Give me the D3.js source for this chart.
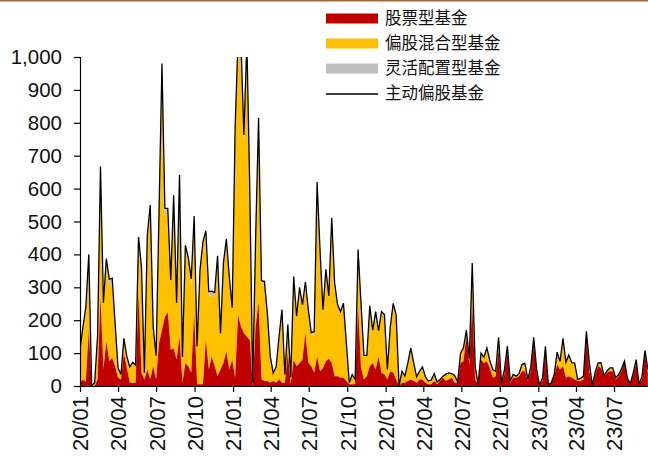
<!DOCTYPE html>
<html><head><meta charset="utf-8">
<script src="https://cdn.jsdelivr.net/npm/d3@7"></script>
<style>
html,body{margin:0;padding:0;background:#fff;}
svg{display:block;}
</style></head>
<body>
<svg id="chart" width="648" height="457"></svg>
<script>
// ---- DATA (weekly, starting 2020-01-03) ----
const startDate = "2020-01-03";
const weekCount = 195;
const tickLabels = ["20/01","20/04","20/07","20/10","21/01","21/04","21/07","21/10","22/01","22/04","22/07","22/10","23/01","23/04","23/07"];
const yTicks = [0,100,200,300,400,500,600,700,800,900,1000];
const seriesNames = ["股票型基金","偏股混合型基金","灵活配置型基金","主动偏股基金"];

const stockFund = [10,20,12,170,0,0,20,270,50,135,75,85,60,25,20,100,55,10,10,10,
280,40,20,50,20,60,20,130,170,210,225,110,115,80,150,10,70,60,40,220,
5,5,5,140,50,90,60,30,50,70,105,50,80,25,215,180,160,150,140,0,
180,255,20,15,15,10,15,10,20,10,10,100,5,80,60,70,80,160,70,60,
40,90,45,55,75,83,70,30,30,25,25,15,5,5,5,240,55,20,30,60,
70,50,90,40,35,20,45,40,20,0,10,10,15,20,15,10,20,20,10,5,
5,15,5,15,25,15,20,25,10,10,70,75,150,65,250,20,5,80,70,75,
55,25,30,110,5,35,110,10,25,25,30,45,45,15,45,145,40,3,15,110,
5,10,30,65,50,60,25,30,25,20,15,15,20,160,45,3,35,60,55,30,
40,45,45,20,28,45,75,20,5,35,70,5,20,100,40];

const mixedFund = [97,155,223,222,0,10,125,385,195,242,230,223,122,27,13,41,32,45,59,50,
165,312,18,400,520,115,69,390,795,310,295,204,455,168,482,75,348,315,265,287,
112,340,426,322,227,183,212,358,106,296,334,275,153,732,825,840,578,880,450,10,
262,545,285,291,201,77,23,46,126,217,23,83,21,245,147,222,161,149,156,98,
113,520,361,171,272,185,433,277,212,196,222,112,5,29,15,170,193,71,61,180,
97,172,75,182,178,29,132,207,193,0,34,19,54,94,54,17,24,37,17,10,
13,21,7,5,4,20,19,12,21,2,28,39,17,18,120,39,0,19,17,39,
22,24,14,36,3,14,10,5,10,5,8,20,23,5,12,2,10,0,10,10,
0,0,5,37,24,84,46,63,45,49,5,8,10,5,26,0,7,9,15,2,
5,9,10,5,6,7,1,5,2,5,10,0,10,8,10];

const flexFund = [3,5,5,8,0,0,5,12,8,10,20,20,8,3,2,4,3,3,3,3,
8,10,2,10,10,5,3,10,15,20,20,8,10,5,10,3,10,15,20,10,
3,8,8,10,10,15,12,8,4,8,8,8,5,30,20,20,25,20,10,0,
8,15,15,12,6,3,2,2,4,5,2,4,1,8,5,8,6,8,6,4,
12,10,8,6,8,6,8,6,5,5,5,3,0,1,0,5,4,2,2,4,
3,4,3,4,4,1,3,4,4,0,1,1,1,2,1,1,1,1,1,0,
0,1,0,0,1,1,1,1,1,0,2,2,3,1,4,1,0,1,1,2,
1,1,1,2,0,1,1,0,0,0,0,1,1,0,1,1,0,0,0,1,
0,0,0,1,1,1,1,1,1,1,0,0,0,1,1,0,0,1,1,0,
0,1,0,0,0,0,0,0,0,0,0,0,0,0,0];

const activeTotal = [110,180,240,400,0,10,150,667,253,387,325,328,190,55,35,145,90,58,72,63,
453,362,40,460,550,180,92,530,980,540,540,322,580,253,642,88,428,390,325,517,
120,353,439,472,287,288,284,396,160,374,447,333,238,787,1060,1040,763,1050,600,10,
450,815,320,318,222,90,40,58,150,232,35,187,27,333,212,300,247,317,232,162,
165,620,414,232,355,274,511,313,247,226,252,130,10,35,20,415,252,93,93,244,
170,226,168,226,217,50,180,251,217,0,45,30,70,116,70,28,45,58,28,15,
18,37,12,20,30,36,40,38,32,12,100,116,170,84,374,60,5,100,88,116,
78,50,45,148,8,50,121,15,35,30,38,66,69,20,58,148,50,3,25,121,
5,10,35,103,75,145,72,94,71,70,20,23,30,166,72,3,42,70,71,32,
45,55,55,25,34,52,76,25,7,40,80,5,30,108,50];

// ---- BUILD ----
const parseDay = d3.timeParse("%Y-%m-%d");
const start = parseDay(startDate);
const dates = d3.range(weekCount).map(i => d3.timeDay.offset(start, 7 * i));
const tickDates = tickLabels.map(s => new Date(2000 + +s.slice(0,2), +s.slice(3) - 1, 3));

const rows = dates.map((d, i) => ({
  date: d, stock: stockFund[i], mixed: mixedFund[i], flex: flexFund[i], total: activeTotal[i]
}));

const svg = d3.select("#chart");
const W = 648, H = 457;
const pL = 80, pR = 648, pT = 57, pB = 386;

const x = d3.scaleTime()
  .domain([tickDates[0], tickDates[tickDates.length - 1]])
  .range([80, 614]);
const y = d3.scaleLinear().domain([0, 1000]).range([pB, pT]);

// top brown rule
svg.append("rect").attr("x", 0).attr("y", 0).attr("width", W).attr("height", 1.5).attr("fill", "#9c6a3d");

svg.append("defs").append("clipPath").attr("id", "plotclip")
  .append("rect").attr("x", pL).attr("y", pT).attr("width", pR - pL).attr("height", pB - pT);

const stack = d3.stack().keys(["stock", "mixed", "flex"]);
const layers = stack(rows);
const colors = {stock: "#c00000", mixed: "#ffc000", flex: "#bfbfbf"};

const area = d3.area()
  .x(d => x(d.data.date))
  .y0(d => y(d[0]))
  .y1(d => y(d[1]));

const g = svg.append("g").attr("clip-path", "url(#plotclip)");
g.selectAll("path.layer")
  .data(layers.slice().reverse())
  .join("path")
  .attr("class", "layer")
  .attr("d", area)
  .attr("fill", d => colors[d.key]);

const line = d3.line().x(d => x(d.date)).y(d => y(d.total));
g.append("path").datum(rows).attr("d", line)
  .attr("fill", "none").attr("stroke", "#000").attr("stroke-width", 1.3).attr("stroke-linejoin", "miter");

// Y axis
const yAxis = d3.axisLeft(y).tickValues(yTicks).tickSize(6).tickPadding(12)
  .tickFormat(d3.format(","));
const gy = svg.append("g").attr("transform", `translate(${pL},0)`).call(yAxis);
gy.select(".domain").attr("stroke", "#000").attr("stroke-width", 1.2);
gy.selectAll(".tick line").attr("stroke", "#000").attr("stroke-width", 1.2);
gy.selectAll(".tick text").attr("font-family", "Liberation Sans, Arial, sans-serif")
  .attr("font-size", 20.5).attr("fill", "#111");

// X axis
const xAxis = d3.axisBottom(x).tickValues(tickDates).tickSize(6).tickSizeOuter(0)
  .tickFormat((d, i) => tickLabels[i]);
const gx = svg.append("g").attr("transform", `translate(0,${pB})`).call(xAxis);
gx.select(".domain").attr("d", `M${pL},0.5H${pR}`).attr("stroke", "#000").attr("stroke-width", 1.2);
gx.selectAll(".tick line").attr("stroke", "#000").attr("stroke-width", 1.2);
gx.selectAll(".tick text")
  .attr("font-family", "Liberation Sans, Arial, sans-serif")
  .attr("font-size", 22).attr("fill", "#111")
  .attr("transform", "rotate(-90)")
  .attr("text-anchor", "end")
  .attr("x", -10).attr("y", 0).attr("dy", "0.36em");

// Legend
const legendItems = [
  {name: seriesNames[0], type: "rect", color: colors.stock},
  {name: seriesNames[1], type: "rect", color: colors.mixed},
  {name: seriesNames[2], type: "rect", color: colors.flex},
  {name: seriesNames[3], type: "line", color: "#000"}
];
const lg = svg.append("g");
legendItems.forEach((it, i) => {
  const cy = 18.5 + i * 25;
  if (it.type === "rect") {
    lg.append("rect").attr("x", 326).attr("y", cy - 5).attr("width", 52).attr("height", 10).attr("fill", it.color);
  } else {
    lg.append("line").attr("x1", 326).attr("x2", 378).attr("y1", cy + 0.5).attr("y2", cy + 0.5)
      .attr("stroke", it.color).attr("stroke-width", 1.3);
  }
  lg.append("text").attr("x", 385).attr("y", cy).attr("dy", "0.36em")
    .attr("font-family", "Noto Sans CJK SC, sans-serif").attr("font-size", 16.5)
    .attr("fill", "#111").text(it.name);
});
</script>
</body></html>
